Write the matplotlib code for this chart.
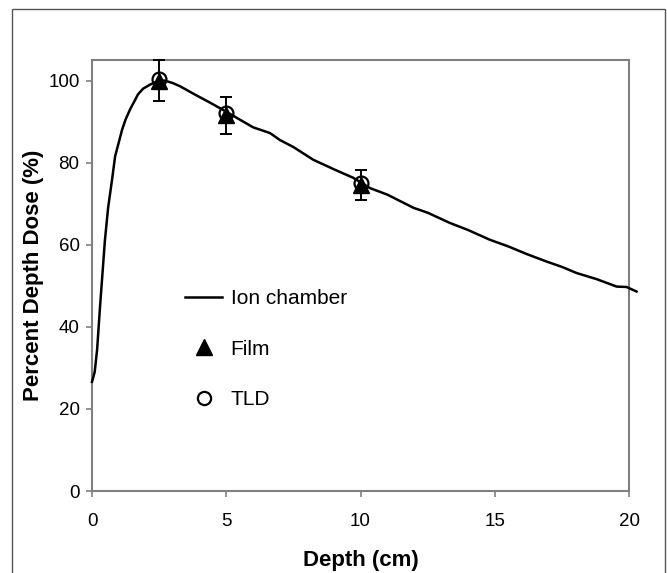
import matplotlib
matplotlib.use("Agg")
import matplotlib.pyplot as plt
from matplotlib.lines import Line2D
from matplotlib.patches import Rectangle

plt.rcParams['font.family'] = ['Liberation Sans', 'DejaVu Sans']

# Ion chamber depth-dose curve
ion_depth = [0, 0.1, 0.19, 0.3, 0.48, 0.6, 0.75, 0.86, 1.0, 1.12, 1.25, 1.42, 1.6,
             1.71, 1.9, 2.16, 2.4, 2.7, 3.0, 3.28, 3.8, 4.4, 5.0, 5.5, 6.0, 6.63,
             7.0, 7.5, 8.24, 9.0, 9.73, 10.35, 11.0, 11.97, 12.5, 13.33, 14.0,
             14.82, 15.5, 16.2, 16.93, 17.5, 18.05, 18.8, 19.54, 19.91, 20.28]
ion_dose = [26.6, 29.0, 34.4, 45.0, 61.0, 69.0, 76.0, 81.5, 85.0, 88.0, 90.5, 93.0,
            95.2, 96.6, 98.0, 99.0, 99.7, 100.0, 99.4, 98.6, 96.7, 94.6, 92.4, 90.5,
            88.6, 87.2, 85.5, 83.8, 80.7, 78.4, 76.3, 73.8, 72.2, 69.0, 67.8, 65.3,
            63.6, 61.2, 59.6, 57.7, 55.9, 54.6, 53.1, 51.6, 49.8, 49.7, 48.6]

# Point measurements
meas_depth = [2.5, 5, 10]
film_dose = [100.0, 91.5, 74.5]
film_err = [5.0, 4.6, 3.6]
tld_dose = [100.3, 92.2, 75.0]

x_ticks = [0, 5, 10, 15, 20]
y_ticks = [0, 20, 40, 60, 80, 100]

fig = plt.figure(figsize=(6.67, 5.73), dpi=100)
ax = fig.add_axes([92 / 667, 82 / 573, 537 / 667, 431 / 573])

# outer frame of the figure
fig.patches.append(Rectangle((12 / 667, -0.05), 653 / 667, 1.05 - 9 / 573,
                             transform=fig.transFigure, fill=False,
                             edgecolor='#555555', linewidth=1.0))

ax.plot(ion_depth, ion_dose, color='black', linewidth=1.8, clip_on=False, zorder=3)
ax.plot(meas_depth, tld_dose, linestyle='none', marker='o', markersize=10,
        markerfacecolor='none', markeredgecolor='black', markeredgewidth=1.6, zorder=4)
ax.errorbar(meas_depth, film_dose, yerr=film_err, fmt='^', color='black',
            markersize=11, capsize=4.5, elinewidth=1.4, capthick=1.4, zorder=5,
            clip_on=False)

ax.set_xlim(0, 20)
ax.set_ylim(0, 105)
ax.set_xticks(x_ticks)
ax.set_yticks(y_ticks)
for s in ax.spines.values():
    s.set_color('#808080')
    s.set_linewidth(1.5)
ax.tick_params(direction='out', length=4, width=1.2, color='#808080',
               labelsize=13.5, pad=5)
ax.tick_params(axis='x', pad=12)

ax.set_xlabel('Depth (cm)', fontsize=16, fontweight='bold', labelpad=14)
ax.set_ylabel('Percent Depth Dose (%)', fontsize=16, fontweight='bold', labelpad=3)

handles = [
    Line2D([], [], color='black', linewidth=1.8),
    Line2D([], [], linestyle='none', marker='^', color='black', markersize=12),
    Line2D([], [], linestyle='none', marker='o', markersize=9.5, markerfacecolor='none',
           markeredgecolor='black', markeredgewidth=1.6),
]
ax.legend(handles, ['Ion chamber', 'Film', 'TLD'], loc='upper left',
          bbox_to_anchor=(0.173, 0.468), frameon=False, fontsize=15,
          borderpad=0, borderaxespad=0,
          handlelength=1.8, handletextpad=0.4, labelspacing=1.5)

fig.savefig('out.png', dpi=100, facecolor='white')
